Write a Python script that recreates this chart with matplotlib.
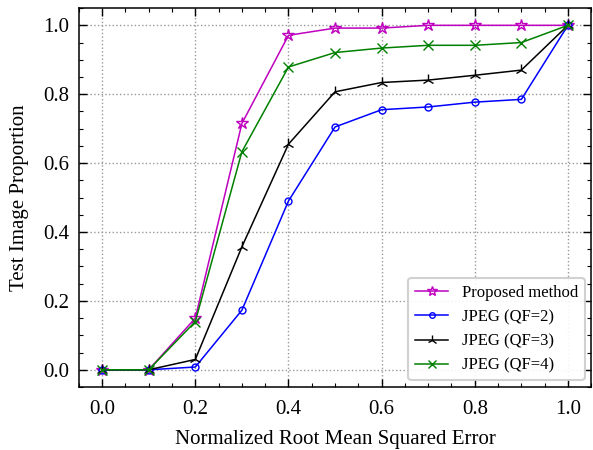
import matplotlib
matplotlib.use("Agg")
import matplotlib.pyplot as plt
from matplotlib.ticker import MultipleLocator

plt.rcParams['font.family'] = ['Liberation Serif', 'DejaVu Serif']
plt.rcParams['mathtext.fontset'] = 'stix'

# data
nrmse = [0.0, 0.1, 0.2, 0.3, 0.4, 0.5, 0.6, 0.7, 0.8, 0.9, 1.0]
proposed = [0.0, 0.0, 0.15, 0.715, 0.971, 0.992, 0.992, 1.0, 1.0, 1.0, 1.0]
jpeg_qf2 = [0.0, 0.0, 0.008, 0.173, 0.49, 0.705, 0.755, 0.763, 0.777, 0.785, 1.0]
jpeg_qf3 = [0.0, 0.0, 0.03, 0.357, 0.655, 0.807, 0.834, 0.841, 0.855, 0.870, 1.0]
jpeg_qf4 = [0.0, 0.0, 0.14, 0.633, 0.879, 0.921, 0.934, 0.942, 0.942, 0.950, 1.0]

fig = plt.figure(figsize=(5.93, 4.5), dpi=100)
ax = fig.add_axes([0.133, 0.14, 0.864, 0.842])

ax.plot(nrmse, proposed, color='m', marker='*', markersize=9, mfc='none', lw=1.1, label='Proposed method')
ax.plot(nrmse, jpeg_qf2, color='b', marker='o', markersize=5, mfc='none', lw=1.1, label='JPEG (QF=2)')
ax.plot(nrmse, jpeg_qf3, color='k', marker='2', markersize=9, lw=1.1, label='JPEG (QF=3)')
ax.plot(nrmse, jpeg_qf4, color='g', marker='x', markersize=6.5, lw=1.1, label='JPEG (QF=4)')

ax.set_xlim(-0.05, 1.05)
ax.set_ylim(-0.05, 1.05)
ax.xaxis.set_major_locator(MultipleLocator(0.2))
ax.xaxis.set_minor_locator(MultipleLocator(0.05))
ax.yaxis.set_major_locator(MultipleLocator(0.2))
ax.yaxis.set_minor_locator(MultipleLocator(0.05))
ax.tick_params(which='both', direction='in', top=True, right=True, labelsize=15)
ax.tick_params(which='major', length=6, width=1)
ax.tick_params(which='minor', length=3, width=0.8)
ax.tick_params(axis='x', which='major', pad=9)
ax.tick_params(axis='y', which='major', pad=7)
for s in ax.spines.values():
    s.set_linewidth(1.1)
ax.grid(True, which='major', linestyle=':', color='0.6', lw=1)

ax.set_xlabel('Normalized Root Mean Squared Error', fontsize=15, labelpad=8)
ax.set_ylabel('Test Image Proportion', fontsize=15, labelpad=10)

leg = ax.legend(loc='lower right', fontsize=12, fancybox=True, framealpha=0.9,
                edgecolor='0.8', markerscale=0.8, borderaxespad=0.4)
leg.get_frame().set_linewidth(1.5)

fig.savefig('out.png', dpi=100)
